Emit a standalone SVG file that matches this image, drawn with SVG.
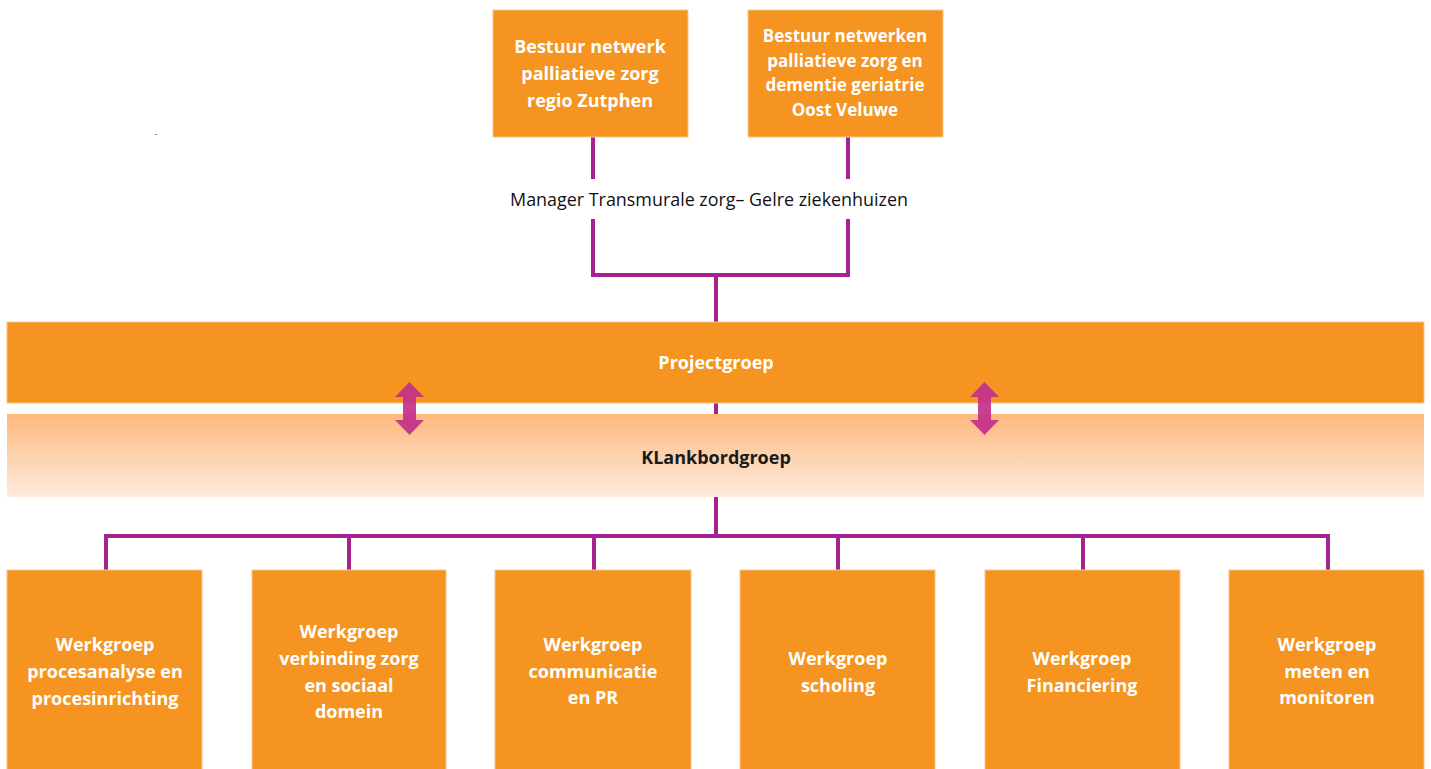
<svg xmlns="http://www.w3.org/2000/svg" width="1431" height="769" viewBox="0 0 1431 769">
<style>
.box{fill:#F59420;stroke:#FBC48A;stroke-width:1}
text{font-family:"Open Sans","Liberation Sans",sans-serif;font-variant-ligatures:none;text-anchor:middle}
.wt{font-weight:bold;font-size:18px;fill:#FFFFFF}
.wt2{font-weight:bold;font-size:17px;fill:#FFFFFF}
.bt{font-size:17.9px;fill:#111111}
.kt{font-weight:bold;font-size:18px;fill:#1a1a1a}
.ln{fill:none;stroke:#A6228F;stroke-width:4}
.arr{fill:#C2308A;opacity:0.92}
</style>
<defs>
<linearGradient id="kg" x1="0" y1="0" x2="0" y2="1">
<stop offset="0" stop-color="#FDB87E"/>
<stop offset="1" stop-color="#FEEBDD"/>
</linearGradient>
</defs>
<text x="156" y="137" font-size="10" fill="#888">-</text>
<g id="connectors">
<path class="ln" d="M593 137V179M848 137V179M593 219V275H848V219M716 275V322"/>
<path class="ln" d="M716 403V414"/>
<path class="ln" d="M716 497V536M106 570V536H1328V570M349 536V570M594 536V570M838 536V570M1083 536V570"/>
</g>
<g id="bestuur1">
<rect class="box" x="493" y="10" width="195" height="127"/>
<text class="wt" x="590" y="53">Bestuur netwerk</text>
<text class="wt" x="590" y="80">palliatieve zorg</text>
<text class="wt" x="590" y="107">regio Zutphen</text>
</g>
<g id="bestuur2">
<rect class="box" x="748" y="10" width="195" height="127"/>
<text class="wt2" x="845" y="42">Bestuur netwerken</text>
<text class="wt2" x="845" y="67">palliatieve zorg en</text>
<text class="wt2" x="845" y="91">dementie geriatrie</text>
<text class="wt2" x="845" y="116">Oost Veluwe</text>
</g>
<g id="manager">
<text class="bt" x="709" y="206">Manager Transmurale zorg– Gelre ziekenhuizen</text>
</g>
<g id="projectgroep">
<rect class="box" x="7" y="322" width="1417" height="81"/>
<text class="wt" x="716" y="369">Projectgroep</text>
</g>
<g id="klankbordgroep">
<rect x="7" y="414" width="1417" height="83" fill="url(#kg)"/>
<text class="kt" x="716" y="464">KLankbordgroep</text>
</g>
<g id="arrows">
<path class="arr" d="M409.5 382L424 397H416V420H424L409.5 435L395 420H403V397H395Z"/>
<path class="arr" d="M984.5 382L999 397H991V420H999L984.5 435L970 420H978V397H970Z"/>
</g>
<g id="wg1">
<rect class="box" x="7" y="570" width="195" height="205"/>
<text class="wt" x="105" y="651">Werkgroep</text>
<text class="wt" x="105" y="678">procesanalyse en</text>
<text class="wt" x="105" y="705">procesinrichting</text>
</g>
<g id="wg2">
<rect class="box" x="252" y="570" width="194" height="205"/>
<text class="wt" x="349" y="638">Werkgroep</text>
<text class="wt" x="349" y="665">verbinding zorg</text>
<text class="wt" x="349" y="692">en sociaal</text>
<text class="wt" x="349" y="718">domein</text>
</g>
<g id="wg3">
<rect class="box" x="495" y="570" width="196" height="205"/>
<text class="wt" x="593" y="651">Werkgroep</text>
<text class="wt" x="593" y="678">communicatie</text>
<text class="wt" x="593" y="704">en PR</text>
</g>
<g id="wg4">
<rect class="box" x="740" y="570" width="195" height="205"/>
<text class="wt" x="838" y="665">Werkgroep</text>
<text class="wt" x="838" y="692">scholing</text>
</g>
<g id="wg5">
<rect class="box" x="985" y="570" width="195" height="205"/>
<text class="wt" x="1082" y="665">Werkgroep</text>
<text class="wt" x="1082" y="692">Financiering</text>
</g>
<g id="wg6">
<rect class="box" x="1229" y="570" width="195" height="205"/>
<text class="wt" x="1327" y="651">Werkgroep</text>
<text class="wt" x="1327" y="678">meten en</text>
<text class="wt" x="1327" y="704">monitoren</text>
</g>
</svg>
